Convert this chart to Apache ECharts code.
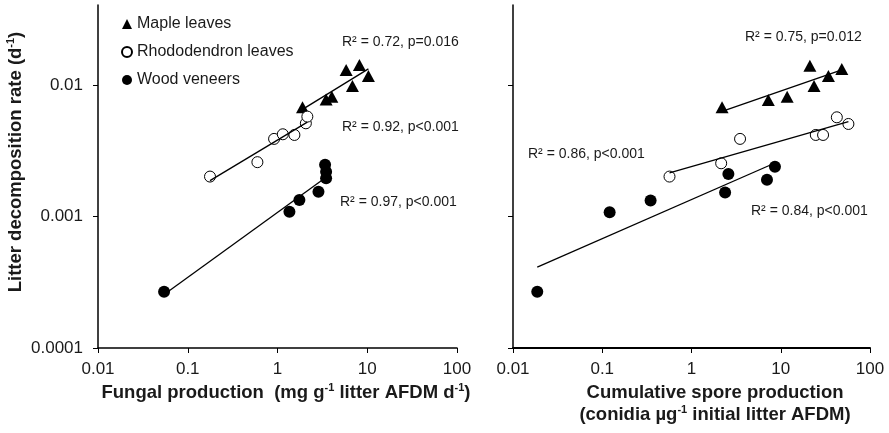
<!DOCTYPE html>
<html><head><meta charset="utf-8">
<script src="https://cdn.jsdelivr.net/npm/echarts@6/dist/echarts.min.js"></script>
<style>html,body{margin:0;padding:0;background:#fff}#c{width:889px;height:433px}</style>
</head><body><div id="c"></div>
<script>
// ---- data ----
const seriesNames = ['Maple leaves', 'Rhododendron leaves', 'Wood veneers'];
const xTicks = [0.01, 0.1, 1, 10, 100];
const yTicks = [0.0001, 0.001, 0.01];

// Left panel: fungal production vs decomposition rate
const leftMapleX = [1.90, 3.48, 4.03, 5.82, 6.84, 8.18, 10.3];
const leftMapleY = [0.0068, 0.0078, 0.0082, 0.0131, 0.0099, 0.0143, 0.0118];
const leftRhodoX = [0.177, 0.597, 0.916, 1.146, 1.543, 2.07, 2.15];
const leftRhodoY = [0.00202, 0.0026, 0.00391, 0.00424, 0.00419, 0.00514, 0.00578];
const leftWoodX = [0.0545, 1.358, 1.754, 2.86, 3.48, 3.48, 3.39];
const leftWoodY = [0.000268, 0.00109, 0.00134, 0.00155, 0.00196, 0.0022, 0.00248];

// Right panel: cumulative spore production vs decomposition rate
const rightMapleX = [2.2, 7.25, 11.8, 21.2, 23.6, 34.2, 48.3];
const rightMapleY = [0.0068, 0.00774, 0.0082, 0.0141, 0.0099, 0.0118, 0.0133];
const rightRhodoX = [0.567, 2.15, 3.50, 24.7, 29.8, 42.5, 57.3];
const rightRhodoY = [0.00202, 0.00255, 0.00391, 0.00419, 0.00419, 0.00571, 0.00508];
const rightWoodX = [0.0187, 0.121, 0.348, 2.38, 2.59, 7.01, 8.61];
const rightWoodY = [0.000268, 0.00108, 0.00133, 0.00153, 0.00211, 0.00191, 0.0024];

const leftStats = ['R² = 0.72, p=0.016', 'R² = 0.92, p<0.001', 'R² = 0.97, p<0.001'];
const rightStats = ['R² = 0.75, p=0.012', 'R² = 0.86, p<0.001', 'R² = 0.84, p<0.001'];

// ---- helpers ----
const zip = (xs, ys) => xs.map((x, i) => [x, ys[i]]);
function fitLine(xs, ys) {
  const lx = xs.map(Math.log10), ly = ys.map(Math.log10), n = xs.length;
  const mx = lx.reduce((a, b) => a + b, 0) / n, my = ly.reduce((a, b) => a + b, 0) / n;
  let sxy = 0, sxx = 0;
  for (let i = 0; i < n; i++) { sxy += (lx[i] - mx) * (ly[i] - my); sxx += (lx[i] - mx) ** 2; }
  const m = sxy / sxx, b = my - m * mx;
  const x0 = Math.min(...xs), x1 = Math.max(...xs);
  return [[x0, 10 ** (b + m * Math.log10(x0))], [x1, 10 ** (b + m * Math.log10(x1))]];
}
const fmtLog = v => { const e = Math.round(Math.log10(v)); if (Math.abs(Math.log10(v) - e) > 1e-6) return ''; return e < 0 ? (10 ** e).toFixed(-e) : String(10 ** e); };

const FONT = '"Liberation Sans", Arial, sans-serif';
const NARROW = '"Liberation Sans Narrow", "Liberation Sans", Arial, sans-serif';
const INK = '#1a1a1a';
const yMax = 0.0409;

const styles = [
  { symbol: 'triangle', symbolSize: [13, 12], itemStyle: { color: '#000', opacity: 1 } },
  { symbol: 'circle', symbolSize: 11, itemStyle: { color: '#fff', borderColor: '#000', borderWidth: 1, opacity: 1 } },
  { symbol: 'circle', symbolSize: 12, itemStyle: { color: '#000', opacity: 1 } }
];

function panelSeries(idx, sets) {
  const out = [];
  sets.forEach((s, k) => {
    out.push(Object.assign({ type: 'scatter', name: seriesNames[k], xAxisIndex: idx, yAxisIndex: idx, data: zip(s[0], s[1]), z: 2, emphasis: { disabled: true } }, styles[k]));
    out.push({ type: 'line', name: 'fit' + idx + k, xAxisIndex: idx, yAxisIndex: idx, data: fitLine(s[0], s[1]), symbol: 'none', z: 3, lineStyle: { color: '#000', width: 1.3 }, silent: true });
  });
  return out;
}

function xAxis(idx, lw) {
  return {
    type: 'log', logBase: 10, gridIndex: idx, min: xTicks[0], max: xTicks[xTicks.length - 1],
    axisLine: { lineStyle: { color: '#000', width: lw } },
    axisTick: { show: true, length: 5, lineStyle: { color: '#000', width: 1 } },
    axisLabel: { formatter: fmtLog, margin: 13, fontSize: 17, fontFamily: NARROW, color: INK },
    splitLine: { show: false }, minorTick: { show: false }
  };
}
function yAxis(idx, showLabel) {
  return {
    type: 'log', logBase: 10, gridIndex: idx, min: yTicks[0], max: yMax,
    axisLine: { show: true, lineStyle: { color: '#000', width: 1.5 } },
    axisTick: { show: true, length: 5, lineStyle: { color: '#000', width: 1 }, customValues: yTicks },
    axisLabel: { show: showLabel, formatter: fmtLog, margin: 15, fontSize: 17, fontFamily: NARROW, color: INK, customValues: yTicks },
    splitLine: { show: false }, minorTick: { show: false }
  };
}

const sup = { fontSize: 11, fontWeight: 'bold', fontFamily: FONT, verticalAlign: 'top', lineHeight: 14, fill: INK, padding: [0, 0, 8, 0] };
const big = { fontSize: 18.5, fontWeight: 'bold', fontFamily: FONT, lineHeight: 22, fill: INK };

function statText(x, y, t) {
  return { type: 'text', left: x, top: y - 8, style: { text: t, font: '14px ' + FONT, fill: INK } };
}

const chart = echarts.init(document.getElementById('c'), null, { renderer: 'canvas' });
chart.setOption({
  animation: false,
  backgroundColor: '#fff',
  grid: [
    { left: 98, top: 5, width: 359, height: 343, outerBoundsMode: 'none' },
    { left: 513, top: 5, width: 357, height: 343, outerBoundsMode: 'none' }
  ],
  xAxis: [xAxis(0, 1.5), xAxis(1, 2)],
  yAxis: [yAxis(0, true), yAxis(1, false)],
  legend: {
    data: seriesNames, orient: 'vertical', left: 116, top: 10, itemWidth: 10, itemHeight: 10, itemGap: 10,
    textStyle: { fontSize: 16, fontFamily: FONT, color: INK, lineHeight: 18 }, selectedMode: false
  },
  series: [
    ...panelSeries(0, [[leftMapleX, leftMapleY], [leftRhodoX, leftRhodoY], [leftWoodX, leftWoodY]]),
    ...panelSeries(1, [[rightMapleX, rightMapleY], [rightRhodoX, rightRhodoY], [rightWoodX, rightWoodY]])
  ],
  graphic: [
    statText(342, 43, leftStats[0]), statText(342, 128, leftStats[1]), statText(340, 203, leftStats[2]),
    statText(745, 38, rightStats[0]), statText(528, 155, rightStats[1]), statText(751, 212, rightStats[2]),
    { type: 'text', x: 16, y: 162, rotation: Math.PI / 2,
      style: { text: '{b|Litter decomposition rate (d}{s|-1}{b|)}', align: 'center', verticalAlign: 'middle', rich: { b: big, s: sup } } },
    { type: 'text', x: 286, y: 393,
      style: { text: '{b|Fungal production  (mg g}{s|-1}{b| litter AFDM d}{s|-1}{b|)}', align: 'center', verticalAlign: 'middle', rich: { b: big, s: sup } } },
    { type: 'text', x: 715, y: 393,
      style: { text: '{b|Cumulative spore production}', align: 'center', verticalAlign: 'middle', rich: { b: big, s: sup } } },
    { type: 'text', x: 715, y: 415,
      style: { text: '{b|(conidia µg}{s|-1}{b| initial litter AFDM)}', align: 'center', verticalAlign: 'middle', rich: { b: big, s: sup } } }
  ]
});
</script></body></html>
